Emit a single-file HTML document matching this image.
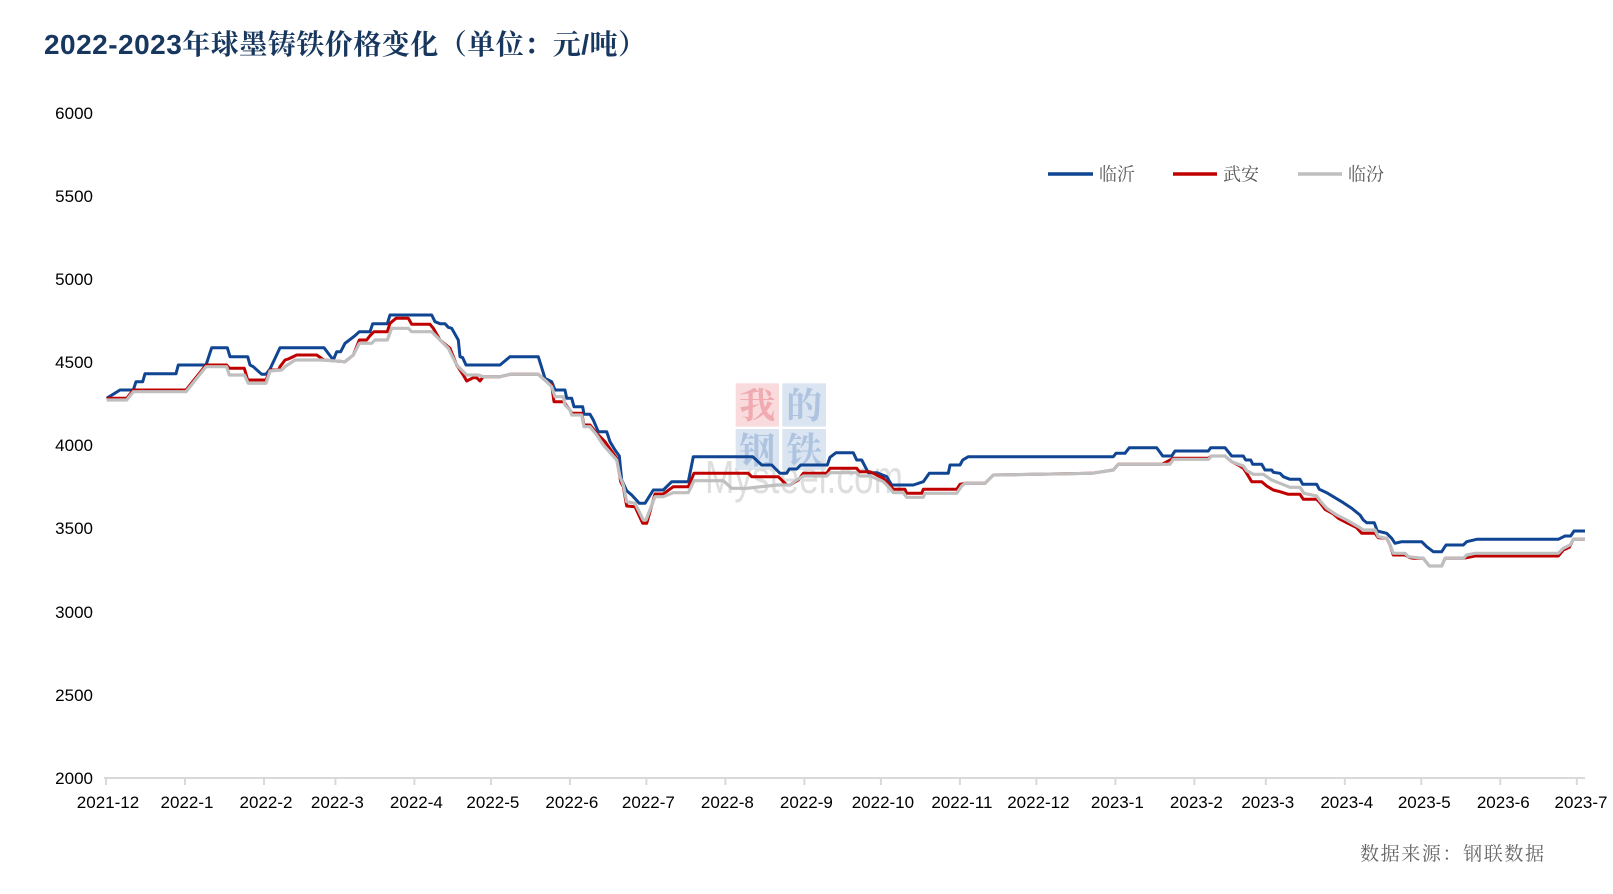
<!DOCTYPE html>
<html>
<head>
<meta charset="utf-8">
<style>
  html, body { margin: 0; padding: 0; background: #ffffff; }
  body { width: 1613px; height: 894px; overflow: hidden; }
  svg { display: block; }
</style>
</head>
<body>
<svg width="1613" height="894" viewBox="0 0 1613 894" xmlns="http://www.w3.org/2000/svg">
  <rect x="0" y="0" width="1613" height="894" fill="#ffffff"/>

  <!-- Title -->
  <text x="44" y="54" textLength="602" lengthAdjust="spacing" font-family="'Liberation Sans','Noto Serif CJK SC',serif" font-weight="bold" font-size="28" fill="#17375e">2022-2023年球墨铸铁价格变化（单位：元/吨）</text>

  <!-- Y axis labels -->
  <g font-family="'Liberation Sans',sans-serif" font-size="17" fill="#000000" text-anchor="end">
    <text x="93" y="119">6000</text>
    <text x="93" y="202">5500</text>
    <text x="93" y="285">5000</text>
    <text x="93" y="368">4500</text>
    <text x="93" y="451">4000</text>
    <text x="93" y="534">3500</text>
    <text x="93" y="618">3000</text>
    <text x="93" y="701">2500</text>
    <text x="93" y="784">2000</text>
  </g>

  <!-- Watermark -->
  <g>
    <rect x="735.7" y="383.3" width="43.3" height="43.3" fill="#f9dadd"/>
    <rect x="782.3" y="383.3" width="43.7" height="43.3" fill="#dbe5f1"/>
    <rect x="735.7" y="429" width="43.3" height="41" fill="#dbe5f1"/>
    <rect x="782.3" y="429" width="43.7" height="41" fill="#dbe5f1"/>
    <g font-family="'Noto Serif CJK SC',serif" font-weight="bold" font-size="36" text-anchor="middle">
      <text x="757.3" y="418" fill="#f0aab0">我</text>
      <text x="804.2" y="418" fill="#adc3df">的</text>
      <text x="757.3" y="463" fill="#adc3df">钢</text>
      <text x="804.2" y="463" fill="#adc3df">铁</text>
    </g>
    <text x="705" y="493" textLength="198" lengthAdjust="spacingAndGlyphs" font-family="'Liberation Sans',sans-serif" font-size="46" fill="#dedede">Mysteel.com</text>
  </g>

  <!-- X axis -->
  <line x1="104" y1="778" x2="1585" y2="778" stroke="#d9d9d9" stroke-width="2"/>
  <g stroke="#d9d9d9" stroke-width="2">
    <line x1="106" y1="778" x2="106" y2="785"/>
    <line x1="185" y1="778" x2="185" y2="785"/>
    <line x1="264" y1="778" x2="264" y2="785"/>
    <line x1="335.4" y1="778" x2="335.4" y2="785"/>
    <line x1="414.4" y1="778" x2="414.4" y2="785"/>
    <line x1="490.9" y1="778" x2="490.9" y2="785"/>
    <line x1="569.9" y1="778" x2="569.9" y2="785"/>
    <line x1="646.4" y1="778" x2="646.4" y2="785"/>
    <line x1="725.4" y1="778" x2="725.4" y2="785"/>
    <line x1="804.4" y1="778" x2="804.4" y2="785"/>
    <line x1="880.9" y1="778" x2="880.9" y2="785"/>
    <line x1="959.9" y1="778" x2="959.9" y2="785"/>
    <line x1="1036.4" y1="778" x2="1036.4" y2="785"/>
    <line x1="1115.4" y1="778" x2="1115.4" y2="785"/>
    <line x1="1194.4" y1="778" x2="1194.4" y2="785"/>
    <line x1="1265.8" y1="778" x2="1265.8" y2="785"/>
    <line x1="1344.8" y1="778" x2="1344.8" y2="785"/>
    <line x1="1421.3" y1="778" x2="1421.3" y2="785"/>
    <line x1="1500.3" y1="778" x2="1500.3" y2="785"/>
    <line x1="1576.8" y1="778" x2="1576.8" y2="785"/>
  </g>
  <g font-family="'Liberation Sans',sans-serif" font-size="17" fill="#000000" text-anchor="middle">
    <text x="108" y="808">2021-12</text>
    <text x="187" y="808">2022-1</text>
    <text x="266" y="808">2022-2</text>
    <text x="337.4" y="808">2022-3</text>
    <text x="416.4" y="808">2022-4</text>
    <text x="492.9" y="808">2022-5</text>
    <text x="571.9" y="808">2022-6</text>
    <text x="648.4" y="808">2022-7</text>
    <text x="727.4" y="808">2022-8</text>
    <text x="806.4" y="808">2022-9</text>
    <text x="882.9" y="808">2022-10</text>
    <text x="961.9" y="808">2022-11</text>
    <text x="1038.4" y="808">2022-12</text>
    <text x="1117.4" y="808">2023-1</text>
    <text x="1196.4" y="808">2023-2</text>
    <text x="1267.8" y="808">2023-3</text>
    <text x="1346.8" y="808">2023-4</text>
    <text x="1424.3" y="808">2023-5</text>
    <text x="1503.3" y="808">2023-6</text>
    <text x="1581" y="808">2023-7</text>
  </g>

  <!-- Series: 临沂 (blue) -->
  <polyline fill="none" stroke="#0f4592" stroke-width="3" stroke-linejoin="round" points="106.7,398.3 120,390 133.3,390 136,381.7 142.7,381.7 145,373.7 176,373.7 178.3,365 206,365 211.7,347.7 227.3,347.7 230,356.7 247.7,356.7 250,365 253.3,366.7 261.7,374.3 266,374.3 270,369 280,347.7 324,347.7 333.3,360 336.7,351.7 340.7,351.7 345,343.3 355,335.7 359.3,331.7 370,331.7 372.7,323.7 387.3,323.7 390,315 431.7,315 435,321.7 440,323.7 445,323.7 448.3,327.3 451.7,328.3 458.3,340 460,356.7 462.7,357.7 466,365 500,365 510,356.7 538.3,356.7 545,378.3 551.7,381.7 555,390 565,390 566.7,398.3 571.7,398.3 574,406.7 582.7,406.7 584,414.3 590,414.3 593.3,420 598.3,431.7 606.7,431.7 610,441.7 615,450 619.3,456 621.7,480 626.7,490.7 631.7,495 639.3,503.3 645,503.3 653.3,490 663.3,490 671.7,481.7 688.3,481.7 693.3,456.7 752.7,456.7 761.7,465 771.7,465 780,473.3 786.7,473.3 789.3,469 796.7,469 800.7,465 827.3,465 830,457.3 836,452.7 853.3,452.7 856.7,460 861.7,460 868.3,472.7 876.7,472.7 886.7,476.7 891.7,485 913.3,485 923.3,481.7 929.3,473.3 948.3,473.3 950,465 960,465 962.7,460 968.3,456.7 1113.3,456.7 1116,453.3 1125,453.3 1129.3,447.7 1156.7,447.7 1162.7,456 1171.7,456 1175,451 1208.3,451 1210.7,447.7 1225,447.7 1231.7,456 1243.3,456 1245.7,460 1250.7,460 1252.7,464.3 1261.7,464.3 1265,470 1271.7,470 1273.3,472.3 1280,473.3 1283.3,476.7 1290,479.3 1300,479.3 1302.7,484.3 1316.7,484.3 1319.3,489.3 1326.7,492.7 1333.3,496.7 1343.3,502.7 1351.7,508.3 1360,515 1363.3,520 1366.7,522.7 1374.3,522.7 1377.3,531 1386.7,533.3 1391.7,538.3 1395,543.3 1401.7,541.7 1421.7,541.7 1426.7,546.7 1433.3,551.7 1441.7,551.7 1446,545 1463.3,545 1466.7,541.7 1476.7,539.3 1558.3,539.3 1565,536 1570.7,536 1574,531 1585,531"/>

  <!-- Series: 武安 (red) -->
  <polyline fill="none" stroke="#c00000" stroke-width="3" stroke-linejoin="round" points="106.7,398.3 126.7,398.3 133.3,390 186,390 206,365 226.7,365 229.3,368.3 244.3,368.3 247.7,380 266,380 270,370 278.3,370 280,366.7 285,360 288.3,359 296.7,355 316.7,355 324,360 345,361.7 353.3,355 359.3,340 366.7,340 370,335.7 374,331.7 387.3,331.7 390,323.3 396,318.3 408.3,318.3 411.7,324.3 430,324.3 433.3,328.3 440,340 450,348.3 456.7,365 463.3,375 466.7,381 473.3,377.7 476.7,377.7 480,381 483.3,376.7 500,376.7 510,374.3 538.3,374.3 546.7,381.7 551.7,385 554,401.7 564,401.7 566,405 570,410 571.7,413.3 581.7,413.3 584,425 590,425 596.7,433.3 605,441.7 616.7,458.3 620.7,481.7 623.3,486.7 626.7,506 635,506.7 642.7,523.3 646.7,523.3 655,494 663.3,494 673.3,486.7 688.3,486.7 694,473.3 748.3,473.3 751.7,476.7 778.3,476.7 786.7,485 790,485 798.3,480 803.3,473.3 826.7,473.3 830,468.3 856.7,468.3 859.3,471.7 870,471.7 883.3,478.3 890,485 893.3,489.3 905,489.3 906.7,493.3 921.7,493.3 923.3,489.3 956.7,489.3 960,484.3 965,483.3 985,483.3 993.3,475 1091.7,473.3 1113.3,470 1118.3,464.3 1161.7,464.3 1165,462.7 1173.3,458.3 1208.3,458.3 1211.7,456 1225,456 1231.7,461.7 1238.3,465 1243.3,468.3 1246.7,473.3 1251.7,481.7 1261.7,481.7 1266.7,486 1273.3,490 1280,491.7 1288.3,494.3 1300,494.3 1303.3,499.3 1316.7,499.3 1320,502.7 1325,509.3 1333.3,514 1338.3,518.3 1346.7,522.7 1356.7,527.7 1361.7,533.3 1375,533.3 1378.3,537.7 1386.7,538.3 1390,545 1393.3,555 1405,555 1410,557.7 1413.3,558.3 1423.3,558.3 1429.3,566 1441.7,566 1445,558.3 1463.3,558.3 1466.7,557.7 1475,556 1558.3,556 1563.3,550 1569.3,547.3 1573.3,539.3 1585,539.3"/>

  <!-- Series: 临汾 (gray) -->
  <polyline fill="none" stroke="#bfbfbf" stroke-width="3.2" stroke-linejoin="round" points="106.7,400 126.7,400 133.3,391.7 186,391.7 206,366.7 226.7,366.7 229.3,375 244.3,375 248.3,383.3 266,383.3 270,371 281.7,370 285,366.7 295,360 321.7,360 345,361.7 353.3,355 359.3,343.3 371.7,343.3 375,340 387.3,340 391.7,328.3 408.3,328.3 411.7,331.7 431.7,331.7 440,340 448.3,348.3 455,361.7 458.3,366.7 466.7,375 478.3,375 483.3,376.7 500,376.7 510,374.3 538.3,374.3 546.7,381.7 551.7,386.7 555,396.7 563.3,396.7 565,405 570,410 571.7,415 581.7,415 584,426.7 590,426.7 596.7,435 603.3,445 616.7,460 620,476.7 623.3,485 626.7,501.7 635,503.3 643.3,520 646,520 655,496.7 663.3,496.7 673.3,492.7 688.3,492.7 694,480.7 723.3,480.7 731.7,488.3 746.7,488.3 776.7,485 790,485 796.7,480 803.3,476 826.7,476 830,472.7 856.7,472.7 860,476 870,476 883.3,481.7 890,488.3 893.3,492.7 903.3,492.7 906.7,497.3 923.3,497.3 925,493.3 956.7,493.3 961.7,486 965,483.3 985,483.3 993.3,475 1091.7,473.3 1113.3,470 1118.3,464.3 1170,464.3 1173.3,459.3 1208.3,459.3 1211.7,456 1225,456 1231.7,461.7 1243.3,466 1246.7,470.7 1253.3,474.3 1263.3,474.3 1271.7,480 1280,483.3 1290,487.3 1300,487.3 1304,493.3 1316.7,496 1320,500.7 1326.7,508.3 1336.7,515 1346.7,520 1358.3,526.7 1363.3,530 1375,530 1378.3,536.7 1386.7,538.3 1390,545 1393.3,553.3 1405,553.3 1408.3,556.7 1423.3,558.3 1429.3,566 1441.7,566 1445,558.3 1463.3,558.3 1466.7,555 1475,553.3 1558.3,553.3 1563.3,548.3 1570,545 1573.3,539.3 1585,539.3"/>

  <!-- Legend -->
  <g stroke-width="3.5">
    <line x1="1048" y1="174" x2="1093" y2="174" stroke="#0f4592"/>
    <line x1="1173" y1="174" x2="1217" y2="174" stroke="#c00000"/>
    <line x1="1298" y1="174" x2="1342" y2="174" stroke="#bfbfbf"/>
  </g>
  <g font-family="'Noto Serif CJK SC','Noto Sans CJK SC',serif" font-size="18" fill="#595959">
    <text x="1099" y="180.5">临沂</text>
    <text x="1223" y="180.5">武安</text>
    <text x="1348" y="180.5">临汾</text>
  </g>

  <!-- Source -->
  <text x="1360" y="860" textLength="184" lengthAdjust="spacing" font-family="'Noto Serif CJK SC','Noto Sans CJK SC',serif" font-size="19" fill="#666666">数据来源：钢联数据</text>
</svg>
</body>
</html>
